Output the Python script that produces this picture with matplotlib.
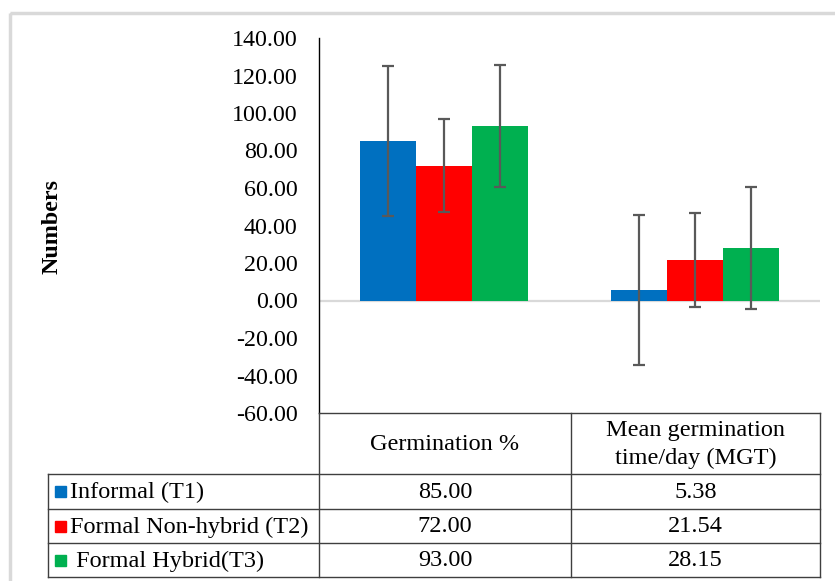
import matplotlib.pyplot as plt
import numpy as np
from matplotlib.patches import Rectangle

plt.rcParams["font.family"] = ["Liberation Serif", "DejaVu Serif"]

categories = ["Germination %", "Mean germination\ntime/day (MGT)"]
series_names = ["Informal (T1)", "Formal Non-hybrid (T2)", " Formal Hybrid(T3)"]
informal = [85.00, 5.38]
non_hybrid = [72.00, 21.54]
hybrid = [93.00, 28.15]
errors = [40.0, 25.0, 32.5]
colors = ["#0070C0", "#FF0000", "#00B050"]
y_ticks = [-60, -40, -20, 0, 20, 40, 60, 80, 100, 120, 140]

W, H = 835, 581
fig = plt.figure(figsize=(W / 100, H / 100), dpi=100)

# chart area in pixel terms of the reference
ax_left, ax_right, ax_top, ax_bottom = 319, 820, 38, 413
ax = fig.add_axes([ax_left / W, 1 - ax_bottom / H,
                   (ax_right - ax_left) / W, (ax_bottom - ax_top) / H])

series = [informal, non_hybrid, hybrid]
x = np.arange(len(categories))
width = 0.224
for j, (vals, err, col) in enumerate(zip(series, errors, colors)):
    ax.bar(x + (j - 1) * width, vals, width, color=col, zorder=2,
           yerr=err, error_kw=dict(ecolor="#595959", elinewidth=1.6,
                                   capsize=4, capthick=1.6, zorder=3))

ax.axhline(0, color="#D9D9D9", lw=1.6, zorder=1)
ax.set_xlim(-0.5, 1.5)
ax.set_ylim(-60, 140)
ax.set_yticks(y_ticks)
ax.set_yticklabels([f"{v:.2f}" for v in y_ticks], fontsize=17.3)
ax.tick_params(axis="y", length=0, pad=15.5)
ax.set_xticks([])
for s in ["top", "right", "bottom"]:
    ax.spines[s].set_visible(False)
ax.spines["left"].set_color("black")
ax.spines["left"].set_linewidth(1.0)

# overlay for table, frame and axis title, in pixels
ov = fig.add_axes([0, 0, 1, 1], zorder=5)
ov.set_xlim(0, W)
ov.set_ylim(H, 0)
ov.axis("off")
ov.patch.set_alpha(0)

ov.add_patch(Rectangle((10, 13), W, H, fill=False, ec="#D9D9D9", lw=2.5))
ov.text(52, 227, "Numbers", rotation=90, fontsize=17.3, fontweight="bold",
        ha="center", va="center")

col_x = [48, 319, 571, 820]
row_y = [413, 474, 509, 543, 577]
lc = "#3F3F3F"
# header row
ov.plot([col_x[1], col_x[3]], [row_y[0], row_y[0]], color=lc, lw=1)
for cx in col_x[1:]:
    ov.plot([cx, cx], [row_y[0], row_y[-1]], color=lc, lw=1)
ov.plot([col_x[0], col_x[0]], [row_y[1], row_y[-1]], color=lc, lw=1)
for ry in row_y[1:]:
    ov.plot([col_x[0], col_x[3]], [ry, ry], color=lc, lw=1)

fs = 17.5
for k, cat in enumerate(categories):
    ov.text((col_x[k + 1] + col_x[k + 2]) / 2, (row_y[0] + row_y[1]) / 2 + 1,
            cat, fontsize=fs, ha="center", va="center", linespacing=1.45)

for i, (name, vals, col) in enumerate(zip(series_names, series, colors)):
    cy = (row_y[i + 1] + row_y[i + 2]) / 2
    ov.add_patch(Rectangle((55, cy - 5.5), 11, 11, color=col))
    ov.text(70, cy + 1, name, fontsize=fs, ha="left", va="center")
    for k, v in enumerate(vals):
        ov.text((col_x[k + 1] + col_x[k + 2]) / 2, cy + 1, f"{v:.2f}",
                fontsize=fs, ha="center", va="center")

fig.savefig("out.png", dpi=100)
